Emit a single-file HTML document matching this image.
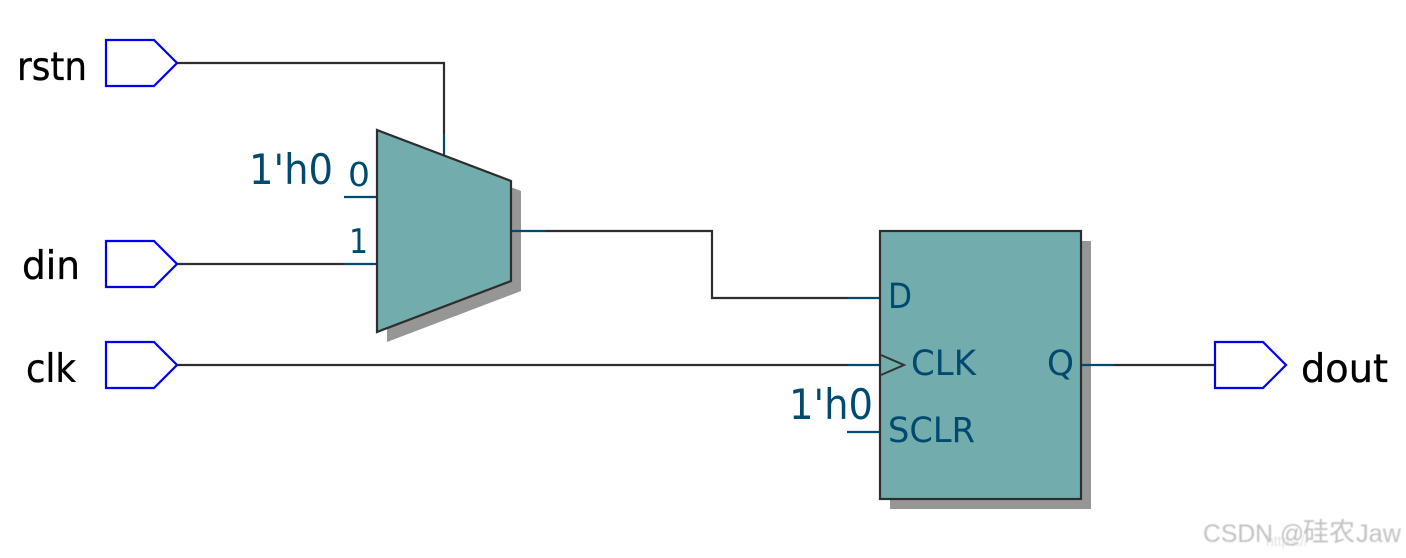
<!DOCTYPE html>
<html><head><meta charset="utf-8">
<style>html,body{margin:0;padding:0;background:#fff;width:1406px;height:558px;overflow:hidden}svg{display:block}
text{font-family:"DejaVu Sans","Liberation Sans",sans-serif}
.wm{font-family:"Liberation Sans","Noto Sans CJK SC",sans-serif}</style></head>
<body>
<svg width="1406" height="558" viewBox="0 0 1406 558" xmlns="http://www.w3.org/2000/svg">
<defs><filter id="b" x="-5%" y="-20%" width="110%" height="140%"><feGaussianBlur stdDeviation="0.45"/></filter></defs>
<rect width="1406" height="558" fill="#fff"/>
<!-- shadows -->
<polygon points="387,140 521,191 521,291 387,342" fill="#969696"/>
<rect x="890" y="241" width="201" height="268" fill="#969696"/>
<!-- wires dark -->
<g fill="none" stroke="#2e2e2e" stroke-width="2.2">
<polyline points="177,63 444,63 444,134"/>
<line x1="177" y1="264" x2="345" y2="264"/>
<line x1="177" y1="365" x2="848" y2="365"/>
<polyline points="545,231 712,231 712,298 848,298"/>
<line x1="1114" y1="365" x2="1215" y2="365"/>
</g>
<!-- pin stubs -->
<g fill="none" stroke="#004a70" stroke-width="2.2">
<line x1="444" y1="134" x2="444" y2="160"/>
<line x1="344" y1="197" x2="377" y2="197"/>
<line x1="345" y1="264" x2="377" y2="264"/>
<line x1="511" y1="231" x2="545" y2="231"/>
<line x1="848" y1="298" x2="880" y2="298"/>
<line x1="848" y1="365" x2="880" y2="365"/>
<line x1="847" y1="432" x2="880" y2="432"/>
<line x1="1081" y1="365" x2="1114" y2="365"/>
</g>
<!-- mux -->
<polygon points="377,130 511,181 511,281 377,332" fill="#73acac" stroke="#2e2e2e" stroke-width="2.2"/>
<!-- FF -->
<rect x="880" y="231" width="201" height="268" fill="#73acac" stroke="#2e2e2e" stroke-width="2.2"/>
<polyline points="881,355 904,365 881,375" fill="none" stroke="#333" stroke-width="2"/>
<!-- ports -->
<g fill="#fff" stroke="#0000f0" stroke-width="2.2">
<polygon points="106,40 154,40 177,63 154,86 106,86"/>
<polygon points="106,241 154,241 177,264 154,287 106,287"/>
<polygon points="106,342 154,342 177,365 154,388 106,388"/>
<polygon points="1215,342 1263,342 1286,365 1263,388 1215,388"/>
</g>
<!-- labels black -->
<g fill="#000" font-size="39" stroke="#000" stroke-width="0.35">
<text x="17" y="80" textLength="70" lengthAdjust="spacingAndGlyphs">rstn</text>
<text x="22" y="279" textLength="58" lengthAdjust="spacingAndGlyphs">din</text>
<text x="26" y="382" textLength="50" lengthAdjust="spacingAndGlyphs">clk</text>
<text x="1301" y="382" textLength="87" lengthAdjust="spacingAndGlyphs">dout</text>
</g>
<!-- labels teal -->
<g fill="#004a70" font-size="35">
<text x="249" y="184" font-size="42" textLength="84" lengthAdjust="spacingAndGlyphs">1'h0</text>
<text x="348" y="186" font-size="33" textLength="22" lengthAdjust="spacingAndGlyphs">0</text>
<text x="349" y="253" font-size="34" textLength="19" lengthAdjust="spacingAndGlyphs">1</text>
<text x="888" y="308" textLength="24" lengthAdjust="spacingAndGlyphs">D</text>
<text x="911" y="375" textLength="65" lengthAdjust="spacingAndGlyphs">CLK</text>
<text x="789" y="419" font-size="42" textLength="84" lengthAdjust="spacingAndGlyphs">1'h0</text>
<text x="888" y="442" textLength="87" lengthAdjust="spacingAndGlyphs">SCLR</text>
<text x="1047" y="375" textLength="27" lengthAdjust="spacingAndGlyphs">Q</text>
</g>
<!-- watermark -->
<g class="wm" filter="url(#b)">
<text class="wm" x="1266" y="546" font-size="15" fill="#e2e2e2" textLength="42" lengthAdjust="spacingAndGlyphs">https://</text>
<g fill="#c2c2c2" font-size="25">
<text class="wm" x="1203" y="542" textLength="70" lengthAdjust="spacingAndGlyphs">CSDN</text>
<text class="wm" x="1280" y="542" textLength="24" lengthAdjust="spacingAndGlyphs">@</text>
<text class="wm" x="1303" y="541" font-size="26" textLength="52">硅农</text>
<text class="wm" x="1356" y="542" textLength="45" lengthAdjust="spacingAndGlyphs">Jaw</text>
</g>
</g>
</svg>
</body></html>
